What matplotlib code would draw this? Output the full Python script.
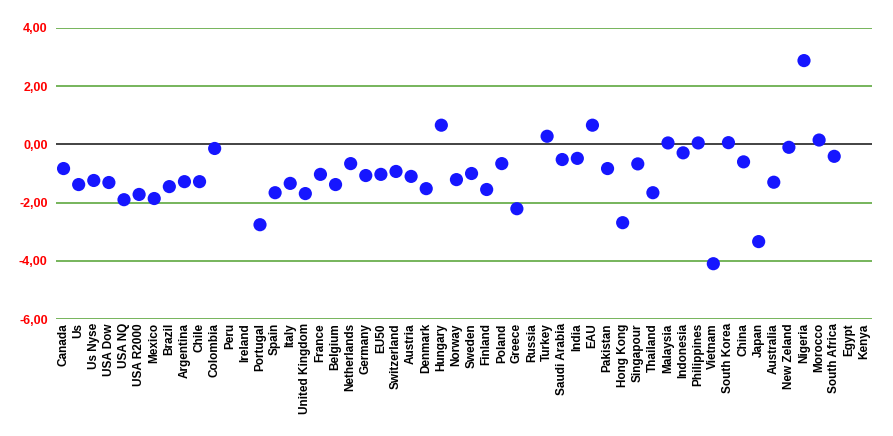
import numpy as np
import matplotlib.pyplot as plt

countries = ["Canada", "Us", "Us Nyse", "USA Dow", "USA NQ", "USA R2000", "Mexico", "Brazil",
             "Argentina", "Chile", "Colombia", "Peru", "Ireland", "Portugal", "Spain", "Italy",
             "United Kingdom", "France", "Belgium", "Netherlands", "Germany", "EU50", "Switzerland",
             "Austria", "Denmark", "Hungary", "Norway", "Sweden", "Finland", "Poland", "Greece",
             "Russia", "Turkey", "Saudi Arabia", "India", "EAU", "Pakistan", "Hong Kong", "Singapour",
             "Thailand", "Malaysia", "Indonesia", "Philippines", "Vietnam", "South Korea", "China",
             "Japan", "Australia", "New Zeland", "Nigeria", "Morocco", "South Africa", "Egypt", "Kenya"]

# nan = no value shown
values = [-0.83, -1.38, -1.24, -1.31, -1.90, -1.72, -1.86, -1.45,
          -1.28, -1.28, -0.14, np.nan, np.nan, -2.76, -1.66, -1.34,
          -1.69, -1.03, -1.38, -0.66, -1.07, -1.03, -0.93,
          -1.10, -1.52, 0.66, -1.21, -1.00, -1.55, -0.66, -2.21,
          np.nan, 0.28, -0.52, -0.48, 0.66, -0.83, -2.69, -0.67,
          -1.66, 0.05, -0.29, 0.05, -4.10, 0.06, -0.60,
          -3.34, -1.30, -0.10, 2.88, 0.15, -0.41, np.nan, np.nan]

yticks = [-6, -4, -2, 0, 2, 4]

plt.rcParams['font.family'] = ['Liberation Sans', 'DejaVu Sans']

fig = plt.figure(figsize=(8.93, 4.36), dpi=100)
ax = fig.add_axes([56/893, 1-319/436, (872-56)/893, (319-28)/436])

x = np.arange(len(countries))
for t in yticks:
    if t == 0:
        ax.axhline(t, color='#222222', lw=1.2, zorder=1)
    else:
        ax.axhline(t, color='#5fa83f', lw=1.2, zorder=1)
ax.scatter(x, values, s=90, color='#1616ff', edgecolors='none', zorder=3)

ax.set_xlim(-0.5, len(countries) - 0.5)
ax.set_ylim(-6, 4)
ax.set_xticks(x)
ax.set_xticklabels(countries, rotation=90, fontsize=8.5, fontweight='bold')
ax.set_yticks(yticks)
ax.set_yticklabels([f"{t:.2f}".replace('.', ',') for t in yticks],
                   color='#ff0000', fontsize=9, fontweight='bold')
ax.tick_params(length=0, pad=3)
ax.tick_params(axis='y', pad=6)
for s in ax.spines.values():
    s.set_visible(False)

fig.savefig("out.png", dpi=100)
